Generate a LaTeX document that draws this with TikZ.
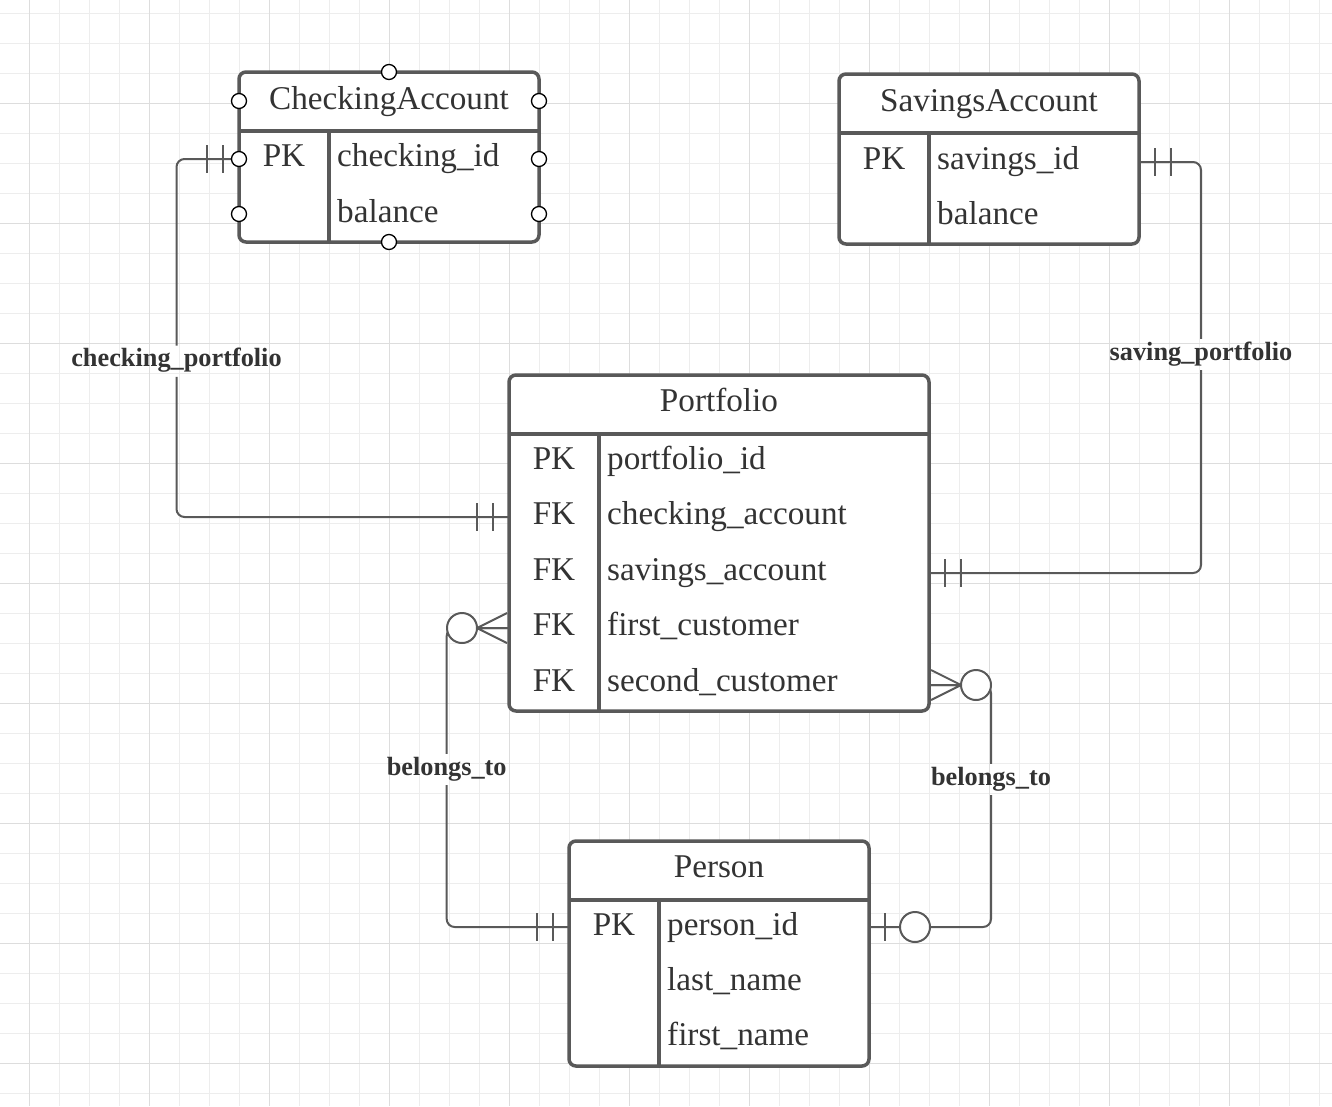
\documentclass[tikz,border=0pt]{standalone}
\usepackage{fontspec}
\setmainfont{Liberation Serif}
\usetikzlibrary{calc}
\definecolor{stroke}{HTML}{595959}
\definecolor{txt}{HTML}{333333}
\definecolor{gridminor}{HTML}{EDEDED}
\definecolor{gridmajor}{HTML}{DDDDDD}
\tikzset{
  entity/.style={rectangle, draw=stroke, line width=3.5, fill=white, rounded corners=7, outer sep=0, inner sep=0},
  divider/.style={draw=stroke, line width=3.5},
  conn/.style={draw=stroke, line width=2, rounded corners=8},
  mk/.style={draw=stroke, line width=2},
  title/.style={anchor=base, inner sep=0, text=txt, font=\fontsize{33.2}{40}\selectfont},
  keytxt/.style={anchor=base, inner sep=0, text=txt, font=\fontsize{33.2}{40}\selectfont},
  field/.style={anchor=base west, inner sep=0, text=txt, font=\fontsize{33.2}{40}\selectfont, text height=22, text depth=10},
  rel/.style={anchor=base, inner xsep=2, inner ysep=4, text=txt, font=\bfseries\fontsize{26.3}{32}\selectfont, text height=17, text depth=6},
  handle/.style={circle, draw=black, fill=white, line width=1.3, minimum size=15, inner sep=0},
  pics/dbar/.style={code={\draw[mk] (-16,-14) -- (-16,14) (-32,-14) -- (-32,14);}},
  pics/crow/.style={code={\draw[mk] (-2,-15) -- (-32,0) -- (-2,15) (-32,0) -- (-2,0);
                          \draw[mk, fill=white] (-47,0) circle[radius=15];}},
  pics/zeroone/.style={code={\draw[mk] (-16,-14) -- (-16,14);
                          \draw[mk, fill=white] (-46,0) circle[radius=15];}},
}
\begin{document}
\begin{tikzpicture}[x=1pt, y=-1pt]
\useasboundingbox (0,0) rectangle (1332,1106);
\fill[white] (0,0) rectangle (1332,1106);
% grid
\foreach \i in {0,...,43} \draw[gridminor, line width=1] ({29.3+30*\i},0) -- ({29.3+30*\i},1106);
\foreach \j in {0,...,36} \draw[gridminor, line width=1] (0,{13.3+30*\j}) -- (1332,{13.3+30*\j});
\foreach \i in {0,...,10} \draw[gridmajor, line width=1] ({29.3+120*\i},0) -- ({29.3+120*\i},1106);
\foreach \j in {0,...,8} \draw[gridmajor, line width=1] (0,{103.3+120*\j}) -- (1332,{103.3+120*\j});

% CheckingAccount
\node[entity, minimum width=300, minimum height=170] (chk) at (389,157) {};
\draw[divider] (239,131) -- (539,131) (329,131) -- (329,242);
\node[title] (chkT) at (389,109.5) {CheckingAccount};
\node[keytxt] (chkPK) at (284,166.5) {PK};
\node[field, text depth=7] (chkid) at (337,166.5) {checking\_id};
\node[field] (chkbal) at (337,222.5) {balance};

% SavingsAccount
\node[entity, minimum width=300, minimum height=170] (sav) at (989,159) {};
\draw[divider] (839,133) -- (1139,133) (929,133) -- (929,244);
\node[title] (savT) at (989,111) {SavingsAccount};
\node[keytxt] (savPK) at (884,169) {PK};
\node[field, text depth=8] (savid) at (937,169) {savings\_id};
\node[field] (savbal) at (937,224) {balance};

% Portfolio
\node[entity, minimum width=420, minimum height=336] (port) at (719,543) {};
\draw[divider] (509,434) -- (929,434) (599,434) -- (599,711);
\node[title] (portT) at (719,411) {Portfolio};
\node[keytxt] (pk1) at (554,469) {PK};
\node[keytxt] (fk1) at (554,524) {FK};
\node[keytxt] (fk2) at (554,580) {FK};
\node[keytxt] (fk3) at (554,635) {FK};
\node[keytxt] (fk4) at (554,691) {FK};
\node[field] (pid) at (607,469) {portfolio\_id};
\node[field, text depth=8] (pchk) at (607,524) {checking\_account};
\node[field, text depth=8] (psav) at (607,580) {savings\_account};
\node[field, text depth=8] (fcust) at (607,635) {first\_customer};
\node[field, text depth=10] (scust) at (607,691) {second\_customer};

% Person
\node[entity, minimum width=300, minimum height=225] (pers) at (719,953.5) {};
\draw[divider] (569,900) -- (869,900) (659,900) -- (659,1066);
\node[title] (persT) at (719,877) {Person};
\node[keytxt] (persPK) at (614,935) {PK};
\node[field, text depth=6] (perid) at (667,935) {person\_id};
\node[field] (plast) at (667,990.5) {last\_name};
\node[field] (pfirst) at (667,1045.5) {first\_name};

% relationship labels
\node[rel] (cpl) at (176.5,366.7) {checking\_portfolio};
\node[rel] (spl) at (1201,360) {saving\_portfolio};
\node[rel] (bl1) at (446.7,775) {belongs\_to};
\node[rel] (bl2) at (991,785) {belongs\_to};

% connectors
\draw[conn] (chk.west |- chkid) -| (cpl.north);
\draw[conn] (cpl.south) |- (port.west |- pchk);
\draw[conn] (sav.east |- savid) -| (spl.north);
\draw[conn] (spl.south) |- (port.east |- psav);
\draw[conn] (port.west |- fcust) -| (bl1.north);
\draw[conn] (bl1.south) |- (pers.west |- perid);
\draw[conn] (port.east |- scust) -| (bl2.north);
\draw[conn] (bl2.south) |- (pers.east |- perid);

% end markers
\pic at (chk.west |- chkid) {dbar};
\pic at (port.west |- pchk) {dbar};
\pic[xscale=-1] at (sav.east |- savid) {dbar};
\pic[xscale=-1] at (port.east |- psav) {dbar};
\pic at (pers.west |- perid) {dbar};
\pic at (port.west |- fcust) {crow};
\pic[xscale=-1] at (port.east |- scust) {crow};
\pic[xscale=-1] at (pers.east |- perid) {zeroone};

% selection handles
\foreach \p [count=\k] in {(389,72),(239,101),(539,101),(239,159),(539,159),(239,214),(539,214),(389,242)}
  \node[handle] (h\k) at \p {};
\end{tikzpicture}
\end{document}
